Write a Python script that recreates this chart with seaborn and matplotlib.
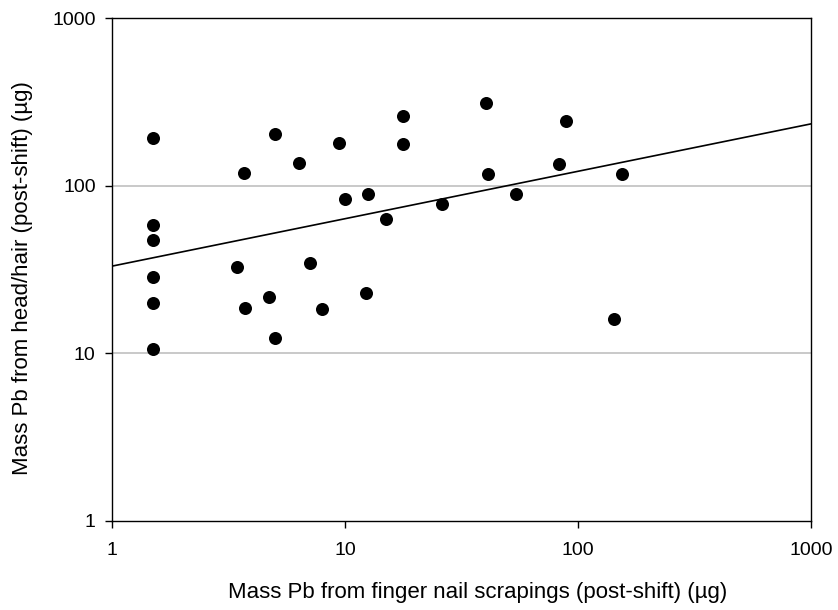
import numpy as np
import pandas as pd
import matplotlib
matplotlib.use("Agg")
import matplotlib.pyplot as plt
import seaborn as sns
from matplotlib.ticker import FixedLocator, FixedFormatter, NullLocator

# Lead mass on finger nail scrapings vs. head/hair (post-shift), micrograms
nail_pb = [1.5, 1.5, 1.5, 1.5, 1.5, 1.5,
           3.44, 3.68, 3.7, 4.7, 5.0, 5.0, 6.35, 7.05, 7.94,
           9.4, 9.97, 12.3, 12.5, 14.9, 17.7, 17.7, 25.9,
           40.0, 40.8, 54.2, 82.9, 88.5, 142.0, 154.0]
hair_pb = [192, 58.7, 47.4, 28.5, 19.9, 10.6,
           32.9, 119.7, 18.7, 21.7, 205, 12.4, 137, 34.6, 18.5,
           179, 83, 22.8, 90, 63, 261, 177, 77.8,
           311, 117.6, 89.8, 135.6, 245, 16.0, 117.6]

# Power-law trend line (log-log fit): y = a * x^b
trend_x = [1, 1000]
trend_a = 33.2
trend_b = 0.283

axis_ticks = [1, 10, 100, 1000]
tick_labels = ["1", "10", "100", "1000"]

df = pd.DataFrame({"nail": nail_pb, "hair": hair_pb})
trend = pd.DataFrame({"x": trend_x,
                      "y": [trend_a * v ** trend_b for v in trend_x]})

sns.set_theme(style="white")
plt.rcParams["font.family"] = ["Liberation Sans", "DejaVu Sans"]
plt.rcParams["text.color"] = "black"
plt.rcParams["axes.labelcolor"] = "black"
plt.rcParams["xtick.color"] = "black"
plt.rcParams["ytick.color"] = "black"

fig = plt.figure(figsize=(8.38, 6.10), dpi=100)
ax = fig.add_axes([0.134, 0.146, 0.834, 0.824])

ax.set_xscale("log")
ax.set_yscale("log")
ax.set_xlim(1, 1000)
ax.set_ylim(1, 1000)

# Horizontal grid at the inner decades
for g in [10, 100]:
    ax.axhline(g, color="#c0c0c0", lw=1.2, zorder=0)

sns.lineplot(data=trend, x="x", y="y", ax=ax, color="black", lw=1.2,
             zorder=2, legend=False)
sns.scatterplot(data=df, x="nail", y="hair", ax=ax, s=88, color="black",
                edgecolor="black", linewidth=0, zorder=3, legend=False)

for axis in (ax.xaxis, ax.yaxis):
    axis.set_major_locator(FixedLocator(axis_ticks))
    axis.set_major_formatter(FixedFormatter(tick_labels))
    axis.set_minor_locator(NullLocator())

ax.tick_params(axis="both", which="major", direction="out", length=5,
               width=1, color="black", labelcolor="black", labelsize=14,
               bottom=True, left=True)
ax.tick_params(axis="y", pad=7)
ax.tick_params(axis="x", pad=10)

for side in ["left", "right", "top", "bottom"]:
    ax.spines[side].set_visible(True)
    ax.spines[side].set_color("black")
    ax.spines[side].set_linewidth(1.0)

ax.set_xlabel("Mass Pb from finger nail scrapings (post-shift) (\u00b5g)",
              fontsize=16, color="black")
ax.set_ylabel("Mass Pb from head/hair (post-shift) (\u00b5g)",
              fontsize=16, color="black")
ax.xaxis.set_label_coords(0.523, -0.122)
ax.yaxis.set_label_coords(-0.113, 0.484)

fig.savefig("out.png", dpi=100, facecolor="white")
